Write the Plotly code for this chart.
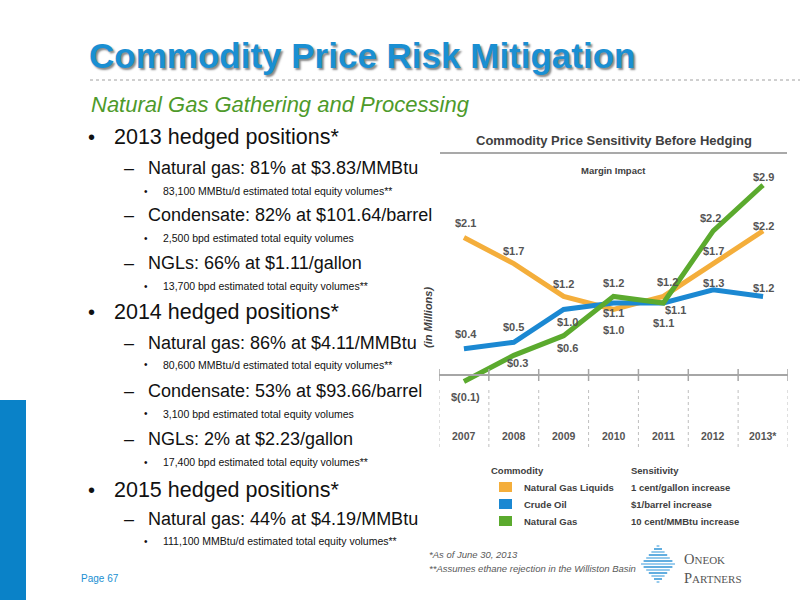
import plotly.graph_objects as go

# chart data
years = ["2007", "2008", "2009", "2010", "2011", "2012", "2013*"]
series_names = ["Natural Gas Liquids", "Crude Oil", "Natural Gas"]
sensitivity = ["1 cent/gallon increase", "$1/barrel increase", "10 cent/MMBtu increase"]
ngl = [2.1, 1.7, 1.2, 1.0, 1.2, 1.7, 2.2]
crude = [0.4, 0.5, 1.0, 1.1, 1.1, 1.3, 1.2]
natgas = [-0.1, 0.3, 0.6, 1.2, 1.1, 2.2, 2.9]

colors = ["#F4AE3B", "#1B88D2", "#5BAA2E"]

# label offsets in px (plotly yshift: + is up)
label_dy = [
    [14, 13, 12, -20, 14, 13, 5],
    [15, 15, -12, -10, -20, 7, 8],
    [-15, -8, -12, 13, -7, 13, 8],
]
label_dx = [
    [2, 0, 0, 0, 4, 0, 0],
    [2, 0, 4, 0, 0, 0, 0],
    [2, 4, 4, 0, 12, -3, 0],
]

W, H = 800, 600
FONT = "Liberation Sans"
GRAY = "#404040"


def py(px):
    return 1 - px / H


def px_x(px):
    return px / W


annotations = []
shapes = []


def note(x, y, text, size, color=GRAY, anchor="left", family=FONT, **kw):
    annotations.append(dict(x=px_x(x), y=py(y), xref="paper", yref="paper", showarrow=False,
                            xanchor=anchor, yanchor="middle", text=text,
                            font=dict(family=family, size=size, color=color), **kw))


fig = go.Figure()

all_series = [ngl, crude, natgas]
for name, vals, col in zip(series_names, all_series, colors):
    fig.add_trace(go.Scatter(x=years, y=vals, mode="lines", name=name,
                             line=dict(color=col, width=5), showlegend=False,
                             hoverinfo="skip"))


def fmt(v):
    return f"$({abs(v):.1f})" if v < 0 else f"${v:.1f}"


for vals, dys, dxs in zip(all_series, label_dy, label_dx):
    for i, (v, dy, dx) in enumerate(zip(vals, dys, dxs)):
        annotations.append(dict(x=i, y=v, xref="x", yref="y", text=f"<b>{fmt(v)}</b>",
                                showarrow=False, xanchor="center", yanchor="middle",
                                yshift=dy, xshift=dx,
                                font=dict(family=FONT, size=11, color="#555555")))

# category labels under axis
for i, yr in enumerate(years):
    annotations.append(dict(x=i, y=py(436), xref="x", yref="paper", text=f"<b>{yr}</b>",
                            showarrow=False, xanchor="center", yanchor="middle",
                            font=dict(family=FONT, size=10.5, color="#555555")))

# zero axis line and category dividers
shapes.append(dict(type="line", xref="x", yref="y", x0=-0.5, x1=6.5, y0=0, y1=0,
                   line=dict(color="#A6A6A6", width=2)))
for i in range(len(years) + 1):
    xb = i - 0.5
    shapes.append(dict(type="line", xref="x", yref="paper", x0=xb, x1=xb, y0=py(369), y1=py(381),
                       line=dict(color="#A6A6A6", width=1.5)))
    shapes.append(dict(type="line", xref="x", yref="paper", x0=xb, x1=xb, y0=py(390), y1=py(447),
                       line=dict(color="#BFBFBF", width=1, dash="dot")))

# chart title
shapes.append(dict(type="line", xref="paper", yref="paper", x0=px_x(440), x1=px_x(787),
                   y0=py(153), y1=py(153), line=dict(color="#8C8C8C", width=1.5)))
note(614, 140, "<b>Commodity Price Sensitivity Before Hedging</b>", 13, anchor="center")
note(613, 170, "<b>Margin Impact</b>", 9.5, anchor="center")
note(428, 318, "<b><i>(in Millions)</i></b>", 11, anchor="center", textangle=-90)

# legend
note(489, 470, "<b>Commodity</b>", 9.5)
note(629, 470, "<b>Sensitivity</b>", 9.5)
row_y = [487, 504, 521]
for name, sens, col, ry in zip(series_names, sensitivity, colors, row_y):
    shapes.append(dict(type="rect", xref="paper", yref="paper", x0=px_x(499), x1=px_x(512),
                       y0=py(ry + 5), y1=py(ry - 5), fillcolor=col, line=dict(width=0)))
    note(522, ry, f"<b>{name}</b>", 9.5)
    note(629, ry, f"<b>{sens}</b>", 9.5)

# footnotes
note(427, 554, "<i>*As of June 30, 2013</i>", 9.5, color="#595959")
note(427, 568, "<i>**Assumes ethane rejection in the Williston Basin</i>", 9.5, color="#595959")

# logo
for k in range(13):
    yy = 546 + k * 3
    half = 17 - abs(k - 6) * 2.6
    shapes.append(dict(type="line", xref="paper", yref="paper", x0=px_x(658 - half),
                       x1=px_x(658 + half), y0=py(yy), y1=py(yy),
                       line=dict(color="#3A9AD9" if k % 2 else "#7BBDE8", width=1.6)))
note(682, 568,
     "O<span style='font-size:11px'>NEOK</span><br>P<span style='font-size:11px'>ARTNERS</span>",
     14.5, color="#555555", family="Liberation Serif", align="left")

# slide header
annotations.append(dict(x=px_x(87), y=py(55), xref="paper", yref="paper", showarrow=False,
                        xanchor="left", yanchor="middle",
                        text="<b>Commodity Price Risk Mitigation</b>",
                        font=dict(family=FONT, size=35, color="#1A8FD2",
                                  shadow="2px 2px 2px #8a8a8a")))
shapes.append(dict(type="line", xref="paper", yref="paper", x0=px_x(90), x1=1,
                   y0=py(80), y1=py(80), line=dict(color="#A0A0A0", width=1, dash="dot")))
note(89, 104, "<i>Natural Gas Gathering and Processing</i>", 22, color="#4E9A2A")

# bullet text
bullets = [
    (1, "2013 hedged positions*"),
    (2, "Natural gas: 81% at $3.83/MMBtu"),
    (3, "83,100 MMBtu/d estimated total equity volumes**"),
    (2, "Condensate: 82% at $101.64/barrel"),
    (3, "2,500 bpd estimated total equity volumes"),
    (2, "NGLs: 66% at $1.11/gallon"),
    (3, "13,700 bpd estimated total equity volumes**"),
    (1, "2014 hedged positions*"),
    (2, "Natural gas: 86% at $4.11/MMBtu"),
    (3, "80,600 MMBtu/d estimated total equity volumes**"),
    (2, "Condensate: 53% at $93.66/barrel"),
    (3, "3,100 bpd estimated total equity volumes"),
    (2, "NGLs: 2% at $2.23/gallon"),
    (3, "17,400 bpd estimated total equity volumes**"),
    (1, "2015 hedged positions*"),
    (2, "Natural gas: 44% at $4.19/MMBtu"),
    (3, "111,100 MMBtu/d estimated total equity volumes**"),
]
bullet_y = [137, 168, 191, 215, 238, 263, 286, 312, 343, 365, 391, 414, 439, 462, 490, 519, 541]
marker = {1: ("•", 86, 112, 21.5, 20), 2: ("–", 122, 146, 18, 18), 3: ("•", 142, 161, 10.5, 10)}
for (lvl, txt), yy in zip(bullets, bullet_y):
    sym, mx, tx, sz, msz = marker[lvl]
    note(mx, yy, sym, msz, color="#111111")
    note(tx, yy, txt, sz, color="#111111")

note(79, 578, "Page 67", 10, color="#1A8FD2")
# left blue bar
shapes.append(dict(type="rect", xref="paper", yref="paper", x0=0, x1=px_x(26), y0=0, y1=py(400),
                   fillcolor="#0A82C8", line=dict(width=0)))

fig.update_layout(
    width=W, height=H,
    margin=dict(l=0, r=0, t=0, b=0),
    paper_bgcolor="white", plot_bgcolor="white",
    xaxis=dict(domain=[px_x(439), px_x(788)], range=[-0.5, 6.5], type="category",
               showticklabels=False, showgrid=False, zeroline=False, showline=False, ticks=""),
    yaxis=dict(domain=[py(450), py(160)], range=[-75 / 65.5, 215 / 65.5],
               showticklabels=False, showgrid=False, zeroline=False, showline=False, ticks=""),
    shapes=shapes,
    annotations=annotations,
)

fig.write_html("out.html", config={"displayModeBar": False},
               post_script="document.body.style.margin='0px';")
